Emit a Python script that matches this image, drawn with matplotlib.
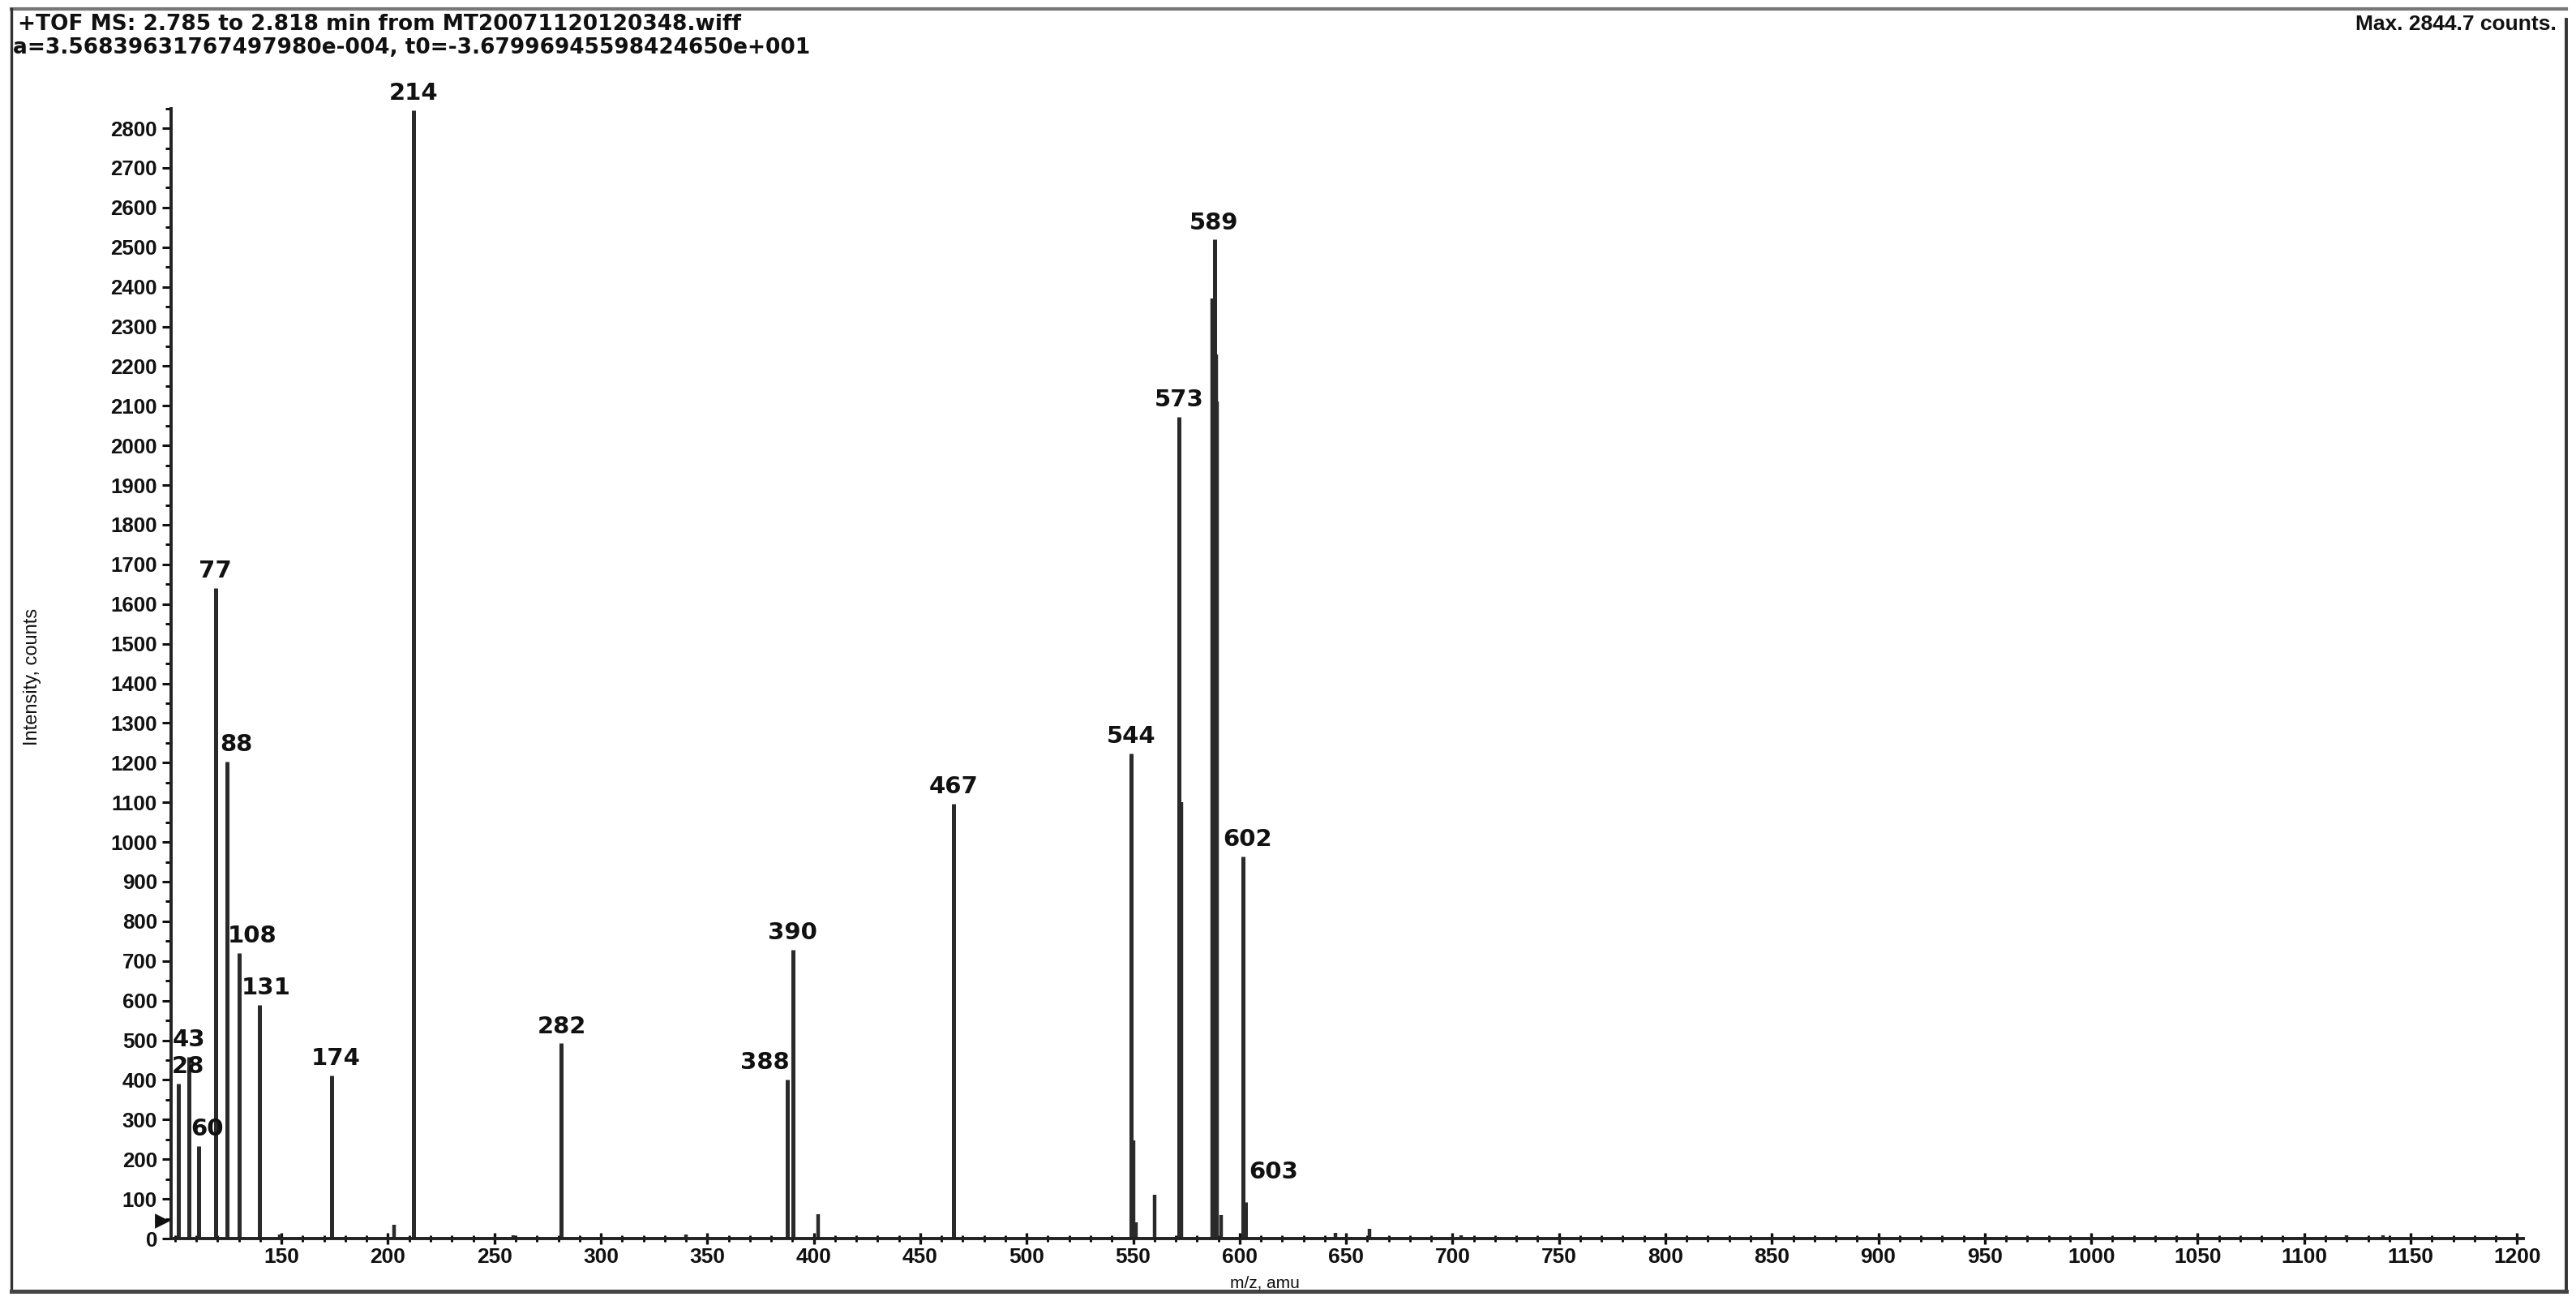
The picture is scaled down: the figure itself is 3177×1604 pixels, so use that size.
import matplotlib
matplotlib.use("Agg")
import matplotlib.pyplot as plt
from matplotlib.lines import Line2D
import matplotlib.transforms as mtransforms

plt.rcParams['font.family'] = ['Liberation Sans', 'DejaVu Sans']

# ---- data ----
labeled_mz = [101.5, 106.5, 111, 119, 124.5, 130, 139.5, 173.5, 212, 281.5,
              387.7, 390.2, 465.7, 549, 571.5, 588.1, 601.5, 602.8]
labeled_int = [391, 459, 234, 1641, 1203, 721, 590, 412, 2845, 492,
               401, 728, 1096, 1224, 2072, 2519, 964, 92]
peak_labels = ["28", "43", "60", "77", "88", "108", "131", "174", "214", "282",
               "388", "390", "467", "544", "573", "589", "602", "603"]

minor_mz = [149, 203, 259, 340, 401.9, 550.3, 551.5, 559.9, 572.7,
            587.3, 588.9, 589.6, 591.5, 645, 661, 704, 1120, 1137]
minor_int = [10, 35, 8, 10, 62, 247, 40, 110, 1100,
             2370, 2230, 2110, 60, 15, 25, 8, 8, 8]

title_line1 = "+TOF MS: 2.785 to 2.818 min from MT20071120120348.wiff"
title_line2 = "a=3.56839631767497980e-004, t0=-3.67996945598424650e+001"
max_text = "Max. 2844.7 counts."
x_label = "m/z, amu"
y_label = "Intensity, counts"

# ---- figure ----
W, H, DPI = 3177, 1604, 200
fig = plt.figure(figsize=(W / DPI, H / DPI), dpi=DPI)
ax = fig.add_axes([0.0663, 0.048, 0.9133, 0.8687])

bar_color = '#2a2a2a'
ax.vlines(minor_mz, 0, minor_int, colors=bar_color, linewidth=1.6)
ax.vlines(labeled_mz, 0, labeled_int, colors=bar_color, linewidth=1.8)

wide = ['DejaVu Sans']

# label nudges (points) for crowded low-mass labels
nudge = {"28": (4.5, 0, 'center'), "60": (4, 0, 'center'), "88": (4, 0, 'center'),
         "108": (6, 0, 'center'), "131": (3, 0, 'center'), "174": (2, 0, 'center'),
         "602": (2, 0, 'center'),
         "388": (1, 0, 'right'), "603": (1.5, 6, 'left')}
for mz, it, lab in zip(labeled_mz, labeled_int, peak_labels):
    dx, dy, ha = nudge.get(lab, (0, 0, 'center'))
    ax.annotate(lab, (mz, it), xytext=(dx, 7.5 + dy), textcoords='offset points',
                ha=ha, va='center', fontsize=10.5, fontweight='bold', color='#111',
                family=wide)

ax.set_xlim(98, 1203)
ax.set_ylim(0, 2850)

for s in ['top', 'right']:
    ax.spines[s].set_visible(False)
for s in ['left', 'bottom']:
    ax.spines[s].set_linewidth(1.4)
    ax.spines[s].set_color('#222')

ax.set_xticks(range(150, 1201, 50))
ax.set_xticks(range(100, 1201, 10), minor=True)
ax.set_yticks(range(0, 2801, 100))
ax.set_yticks(range(50, 2851, 100), minor=True)
ax.tick_params(axis='x', which='major', direction='inout', length=5, width=1.2,
               labelsize=9.5, pad=1.5, colors='#111')
ax.tick_params(axis='x', which='minor', direction='inout', length=3, width=1.0)
ax.tick_params(axis='y', which='major', direction='out', length=4, width=1.1,
               labelsize=9.3, pad=2, colors='#111')
ax.tick_params(axis='y', which='minor', direction='out', length=2.5, width=1.0)
for t in ax.get_yticklabels() + ax.get_xticklabels():
    t.set_fontweight('bold')

# small start marker on the y-axis
trans = mtransforms.blended_transform_factory(ax.transAxes, ax.transData)
ax.plot([-0.004], [45], marker='>', markersize=5, color='#111', transform=trans,
        clip_on=False)

# labels
fig.text(0.0125, 0.48, y_label, rotation=90, ha='center', va='center', fontsize=8.5, color='#111')
fig.text(0.491, 0.0135, x_label, ha='center', va='center', fontsize=7.5, color='#111')

# header texts
fig.text(0.0068, 0.981, title_line1, ha='left', va='center', fontsize=9.5,
         fontweight='bold', color='#111', family=wide)
fig.text(0.005, 0.9635, title_line2, ha='left', va='center', fontsize=9.5,
         fontweight='bold', color='#111', family=wide)
fig.text(0.9925, 0.981, max_text, ha='right', va='center', fontsize=9.5,
         fontweight='bold', color='#111')

# outer frame
L, R, B, T = 0.0045, 0.9962, 0.0076, 0.993
fig.add_artist(Line2D([L, R], [T, T], color='#777', lw=1.5))
fig.add_artist(Line2D([L, L], [B, T], color='#333', lw=1.2))
fig.add_artist(Line2D([R, R], [B, 0.985], color='#333', lw=1.4))
fig.add_artist(Line2D([L, R], [B, B], color='#444', lw=1.8))

fig.savefig("out.png", dpi=DPI)
